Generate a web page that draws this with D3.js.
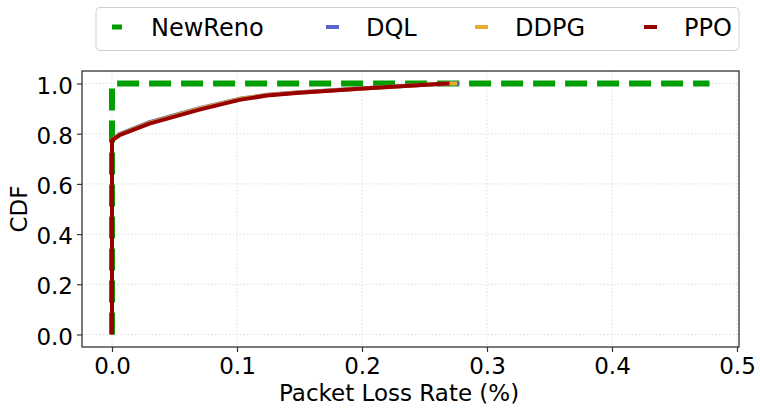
<!DOCTYPE html>
<html>
<head>
<meta charset="utf-8">
<script src="https://cdn.jsdelivr.net/npm/d3@7.9.0/dist/d3.min.js"></script>
<style>
  body { margin: 0; background: #fff; }
  svg text { font-family: "DejaVu Sans", sans-serif; fill: #000; }
</style>
</head>
<body>
<div id="chart"></div>
<script>
// ---------------------------------------------------------
// Data
// ---------------------------------------------------------
const seriesNames = ["NewReno", "DQL", "DDPG", "PPO"];
const seriesColors = ["#009e00", "#5566c8", "#e6ad2e", "#990000"];

const newRenoX = [0, 0, 0.478];
const newRenoY = [0, 1, 1];

const dqlX = [0, 0, 0.006, 0.03, 0.07, 0.102, 0.124, 0.15, 0.198, 0.254, 0.27, 0.278];
const dqlY = [0, 0.776, 0.798, 0.846, 0.902, 0.939, 0.955, 0.965, 0.980, 0.996, 1.0, 1.0];

const ddpgX = [0, 0, 0.006, 0.03, 0.07, 0.102, 0.124, 0.15, 0.198, 0.254, 0.27, 0.276];
const ddpgY = [0, 0.775, 0.796, 0.843, 0.900, 0.938, 0.954, 0.964, 0.979, 0.996, 1.0, 1.0];

const ppoX = [0, 0, 0.006, 0.03, 0.07, 0.102, 0.124, 0.15, 0.198, 0.254, 0.27];
const ppoY = [0, 0.774, 0.794, 0.840, 0.896, 0.935, 0.952, 0.963, 0.979, 0.996, 1.0];

const xTicks = [0, 0.1, 0.2, 0.3, 0.4, 0.5];
const yTicks = [0, 0.2, 0.4, 0.6, 0.8, 1.0];

// ---------------------------------------------------------
// Layout
// ---------------------------------------------------------
const width = 760, height = 414;
const plot = { left: 82, right: 739, top: 71, bottom: 347 };
const fontSize = 23;

const svg = d3.select("#chart").append("svg")
  .attr("width", width)
  .attr("height", height);

const xScale = d3.scaleLinear().domain([-0.024, 0.5016]).range([plot.left, plot.right]);
const yScale = d3.scaleLinear().domain([-0.05, 1.05]).range([plot.bottom, plot.top]);

// grid
const grid = svg.append("g").attr("class", "grid")
  .attr("stroke", "#d6d6d6").attr("stroke-width", 0.8).attr("stroke-dasharray", "1.5,2");
grid.selectAll("line.gx").data(xTicks).join("line")
  .attr("x1", d => xScale(d)).attr("x2", d => xScale(d))
  .attr("y1", plot.top).attr("y2", plot.bottom);
grid.selectAll("line.gy").data(yTicks).join("line")
  .attr("y1", d => yScale(d)).attr("y2", d => yScale(d))
  .attr("x1", plot.left).attr("x2", plot.right);

// axes
const xAxis = svg.append("g")
  .attr("transform", `translate(0,${plot.bottom})`)
  .call(d3.axisBottom(xScale).tickValues(xTicks).tickFormat(d3.format(".1f")).tickSize(5).tickPadding(6));
const yAxis = svg.append("g")
  .attr("transform", `translate(${plot.left},0)`)
  .call(d3.axisLeft(yScale).tickValues(yTicks).tickFormat(d3.format(".1f")).tickSize(5).tickPadding(4));
[xAxis, yAxis].forEach(a => {
  a.select(".domain").remove();
  a.selectAll(".tick line").attr("stroke", "#333").attr("stroke-width", 1.2);
  a.selectAll(".tick text").attr("font-size", fontSize).attr("fill", "#000");
});
yAxis.selectAll(".tick text").attr("dy", "0.42em");

// lines
const line = d3.line().x(d => xScale(d[0])).y(d => yScale(d[1]));
const zip = (xs, ys) => xs.map((x, i) => [x, ys[i]]);

const curves = [
  { name: "NewReno", pts: zip(newRenoX, newRenoY), w: 6, dash: "22,10" },
  { name: "DQL", pts: zip(dqlX, dqlY), w: 4, dash: null },
  { name: "DDPG", pts: zip(ddpgX, ddpgY), w: 4, dash: null },
  { name: "PPO", pts: zip(ppoX, ppoY), w: 4, dash: null }
];

const plotG = svg.append("g");
plotG.selectAll("path").data(curves).join("path")
  .attr("d", d => line(d.pts))
  .attr("fill", "none")
  .attr("stroke", d => seriesColors[seriesNames.indexOf(d.name)])
  .attr("stroke-width", d => d.w)
  .attr("stroke-dasharray", d => d.dash)
  .attr("stroke-linejoin", "round");

// frame
svg.append("rect")
  .attr("x", plot.left).attr("y", plot.top)
  .attr("width", plot.right - plot.left).attr("height", plot.bottom - plot.top)
  .attr("fill", "none").attr("stroke", "#333").attr("stroke-width", 1.3);

// axis titles
svg.append("text")
  .attr("x", 279).attr("y", 401)
  .attr("font-size", fontSize)
  .text("Packet Loss Rate (%)");
svg.append("text")
  .attr("transform", `translate(27,${(plot.top + plot.bottom) / 2}) rotate(-90)`)
  .attr("text-anchor", "middle").attr("font-size", fontSize)
  .text("CDF");

// legend
const legend = svg.append("g");
legend.append("rect")
  .attr("x", 96).attr("y", 7.5).attr("width", 643).attr("height", 43).attr("rx", 4)
  .attr("fill", "#fff").attr("stroke", "#d0d0d0").attr("stroke-width", 1);
const legendX = [112, 326, 475, 644];
const items = legend.selectAll("g.item").data(seriesNames).join("g")
  .attr("transform", (d, i) => `translate(${legendX[i]},27)`);
items.append("line")
  .attr("x1", 0).attr("x2", (d, i) => i === 0 ? 10 : 13)
  .attr("y1", 0).attr("y2", 0)
  .attr("stroke", (d, i) => seriesColors[i])
  .attr("stroke-width", (d, i) => i === 0 ? 5 : 4);
items.append("text")
  .attr("x", (d, i) => i === 0 ? 39 : 40)
  .attr("y", 8.5)
  .attr("font-size", 24)
  .text(d => d);
</script>
</body>
</html>
